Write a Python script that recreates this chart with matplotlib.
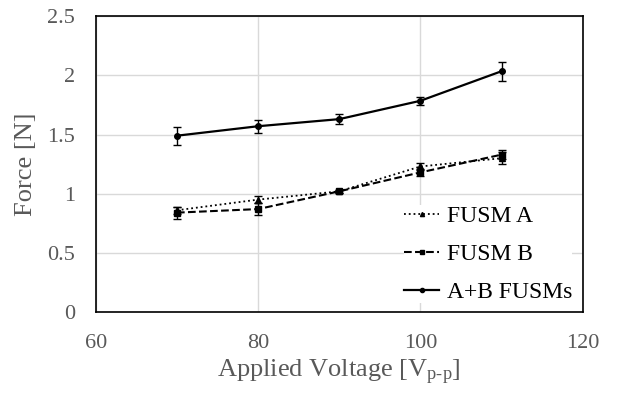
import matplotlib
matplotlib.use("Agg")
import matplotlib.pyplot as plt
from matplotlib.lines import Line2D

plt.rcParams['font.family'] = ['Liberation Serif', 'DejaVu Serif']
plt.rcParams['mathtext.fontset'] = 'custom'
plt.rcParams['mathtext.rm'] = 'Liberation Serif'
plt.rcParams['mathtext.it'] = 'Liberation Serif:italic'

voltage = [70, 80, 90, 100, 110]
fusm_a = [0.86, 0.95, 1.02, 1.23, 1.30]
fusm_a_err = [0.03, 0.03, 0.01, 0.03, 0.05]
fusm_b = [0.84, 0.87, 1.02, 1.18, 1.33]
fusm_b_err = [0.05, 0.05, 0.01, 0.03, 0.04]
fusm_ab = [1.49, 1.57, 1.63, 1.785, 2.035]
fusm_ab_err = [0.075, 0.055, 0.045, 0.035, 0.08]
labels = ['FUSM A', 'FUSM B', 'A+B FUSMs']

fig = plt.figure(figsize=(6.18, 3.94), dpi=100)
ax = fig.add_axes([0.155, 0.208, 0.788, 0.751])

styles = [(':', '^', 1.3), ('--', 's', 1.5), ('-', 'o', 1.6)]
series = [(fusm_a, fusm_a_err), (fusm_b, fusm_b_err), (fusm_ab, fusm_ab_err)]
handles = []
for (vals, errs), (ls, mk, lw), lab in zip(series, styles, labels):
    ax.errorbar(voltage, vals, yerr=errs, color='black', ls=ls, lw=lw,
                marker=mk, ms=4, capsize=3, elinewidth=1, capthick=1)
    handles.append(Line2D([], [], color='black', ls=ls, lw=lw, marker=mk, ms=3))

ax.set_xlim(60, 120)
ax.set_ylim(0, 2.5)
ax.set_xticks([60, 80, 100, 120])
ax.set_yticks([0, 0.5, 1, 1.5, 2, 2.5])
ax.set_yticklabels(['0', '0.5', '1', '1.5', '2', '2.5'])
ax.grid(True, color='#d9d9d9', lw=1)
ax.set_axisbelow(True)
for s in ax.spines.values():
    s.set_color('black')
    s.set_linewidth(1.2)
    s.set_zorder(3)
ax.tick_params(axis='both', length=0, labelsize=16, labelcolor='#595959')
ax.tick_params(axis='y', pad=15)
ax.tick_params(axis='x', pad=16)
ax.set_xlabel('Applied Voltage [V$_{\\mathrm{p\\text{-}p}}$]', fontsize=19, color='#595959', labelpad=3)
ax.set_ylabel('Force [N]', fontsize=19, color='#595959', labelpad=7)

leg = ax.legend(handles, labels, loc='lower right', bbox_to_anchor=(1.002, -0.009),
                fontsize=17, frameon=True, fancybox=False, framealpha=1,
                facecolor='white', edgecolor='none', handlelength=1.5,
                handletextpad=0.3, labelspacing=0.7, borderpad=0.0)
leg.set_zorder(2.2)

fig.savefig('out.png', dpi=100)
